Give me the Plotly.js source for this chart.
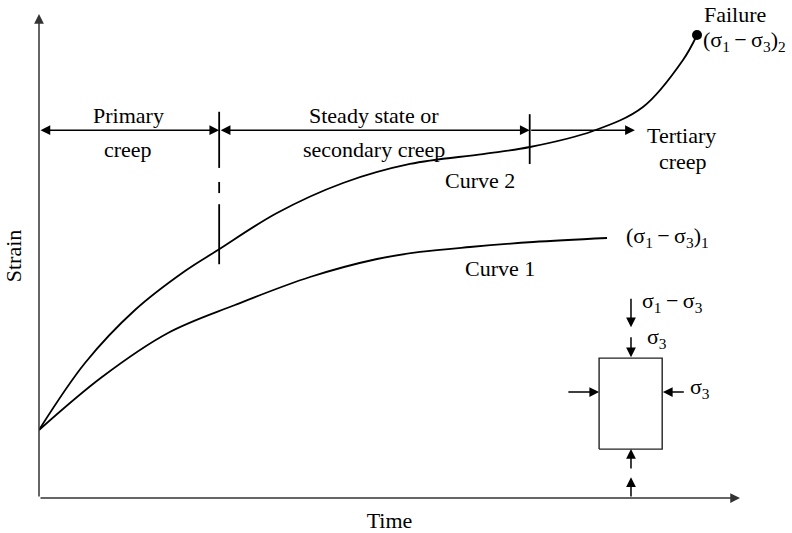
<!DOCTYPE html>
<html>
<head>
<meta charset="utf-8">
<script src="https://cdn.plot.ly/plotly-3.0.1.min.js"></script>
<style>html,body{margin:0;padding:0;background:#fff;}#chart{width:792px;height:533px;}</style>
</head>
<body>
<div id="chart"></div>
<script>
// ---- Data (Time / Strain in arbitrary units, 0..100) ----
const curve2Time   = [0, 6.56, 13.69, 20.83, 25.53, 33.95, 43.37, 52.92, 63.34, 70.04, 79.03, 86.16, 91.87, 93.87];
const curve2Strain = [14.05, 27.89, 38.84, 46.90, 51.24, 58.88, 65.08, 69.01, 71.07, 72.52, 75.83, 80.79, 90.50, 95.66];
const curve1Time   = [0, 8.99, 18.40, 27.96, 38.66, 48.22, 54.35, 61.48, 70.47, 81.03];
const curve1Strain = [14.05, 25.00, 34.09, 39.88, 45.66, 49.38, 50.83, 51.86, 52.89, 53.72];
const failurePoint = {time: 93.87, strain: 95.66};
// stage boundaries (time) and the strain level of the stage arrows
const stageBounds = [0, 25.7, 70.0, 85.0];
const stageArrowStrain = 76.0;
const stageLabels = [["Primary", "creep"], ["Steady state or", "secondary creep"], ["Tertiary", "creep"]];
// boundary markers (time, strain segments)
const boundary1Time = 25.7;
const boundary1Segments = [[79.8, 68.2], [65.3, 63.0], [60.7, 48.3]];
const boundary2Time = 70.0;
const boundary2Segment = [79.3, 69.0];
// inset specimen box
const boxTime = [79.9, 88.9];
const boxStrain = [10.1, 28.9];

const FONT = "Liberation Serif, Times New Roman, serif";
const INK = "#000";
const FS = 22;
const TS = "\u2009\u2212\u2009";

const traces = [];
traces.push({x: curve2Time, y: curve2Strain, mode: "lines", line: {color: INK, width: 1.8, shape: "spline", smoothing: 1}, hoverinfo: "skip"});
traces.push({x: curve1Time, y: curve1Strain, mode: "lines", line: {color: INK, width: 1.8, shape: "spline", smoothing: 1}, hoverinfo: "skip"});
traces.push({x: [failurePoint.time], y: [failurePoint.strain], mode: "markers", marker: {color: INK, size: 10}, hoverinfo: "skip"});
// boundary lines
const bx = [], by = [];
boundary1Segments.forEach(s => { bx.push(boundary1Time, boundary1Time, null); by.push(s[0], s[1], null); });
bx.push(boundary2Time, boundary2Time); by.push(boundary2Segment[0], boundary2Segment[1]);
traces.push({x: bx, y: by, mode: "lines", line: {color: INK, width: 1.8}, hoverinfo: "skip", connectgaps: false});
// box
traces.push({x: [boxTime[0], boxTime[1], boxTime[1], boxTime[0], boxTime[0]], y: [boxStrain[0], boxStrain[0], boxStrain[1], boxStrain[1], boxStrain[0]], mode: "lines", line: {color: "#222", width: 1.4}, hoverinfo: "skip"});

const ann = [];
function arrow(x0, y0, x1, y1, both, col, w) {
  ann.push({x: x1, y: y1, ax: x0, ay: y0, xref: "x", yref: "y", axref: "x", ayref: "y", text: "", showarrow: true,
    arrowhead: 2, arrowsize: 1.3, arrowwidth: w || 1.5, arrowcolor: col || INK,
    arrowside: both ? "end+start" : "end", startarrowhead: 2, startarrowsize: 1.3});
}
function label(x, y, text, opts) {
  ann.push(Object.assign({x: x, y: y, xref: "x", yref: "y", text: text, showarrow: false, xanchor: "center", yanchor: "middle",
    font: {family: FONT, size: FS, color: INK}}, opts || {}));
}
// axes with arrowheads
arrow(0, 0, 0, 100, false, "#333", 1.5);
arrow(0, 0, 100, 0, false, "#333", 1.5);
// stage arrows
arrow(stageBounds[0], stageArrowStrain, stageBounds[1], stageArrowStrain, true);
arrow(stageBounds[1], stageArrowStrain, stageBounds[2], stageArrowStrain, true);
arrow(stageBounds[2], stageArrowStrain, stageBounds[3], stageArrowStrain, false);
// stage labels
label(12.7, 79.1, stageLabels[0][0]);
label(12.7, 72.1, stageLabels[0][1]);
label(47.8, 79.1, stageLabels[1][0]);
label(47.8, 72.1, stageLabels[1][1]);
label(91.7, 75.0, stageLabels[2][0]);
label(91.8, 69.6, stageLabels[2][1]);
label(62.9, 65.5, "Curve 2");
label(65.8, 47.5, "Curve 1");
label(83.4, 53.9, "(σ<sub>1</sub>" + TS + "σ<sub>3</sub>)<sub>1</sub>", {xanchor: "left"});
label(99.3, 99.8, "Failure");
label(94.5, 94.4, "(σ<sub>1</sub>" + TS + "σ<sub>3</sub>)<sub>2</sub>", {xanchor: "left"});
// inset arrows
arrow(84.45, 41.5, 84.45, 35.3, false);
arrow(84.45, 33.5, 84.45, 29.1, false);
arrow(75.3, 21.9, 79.9, 21.9, false);
arrow(92.2, 21.9, 89.0, 21.9, false);
arrow(84.45, 5.8, 84.45, 10.1, false);
arrow(84.45, 0, 84.45, 4.3, false);
label(85.8, 40.5, "σ<sub>1</sub>" + TS + "σ<sub>3</sub>", {xanchor: "left"});
label(86.4, 33.1, "σ<sub>3</sub>", {xanchor: "left"});
label(92.6, 22.7, "σ<sub>3</sub>", {xanchor: "left"});

const layout = {
  width: 792, height: 533,
  margin: {l: 39, r: 52, t: 14, b: 35},
  paper_bgcolor: "#fff", plot_bgcolor: "#fff",
  showlegend: false,
  xaxis: {range: [0, 100], showgrid: false, zeroline: false, showline: false, showticklabels: false, ticks: "",
    title: {text: "Time", font: {family: FONT, size: FS, color: INK}, standoff: 14}, automargin: false},
  yaxis: {range: [0, 100], showgrid: false, zeroline: false, showline: false, showticklabels: false, ticks: "",
    title: {text: "Strain", font: {family: FONT, size: FS, color: INK}, standoff: 10}, automargin: false},
  annotations: ann
};
Plotly.newPlot("chart", traces, layout, {displayModeBar: false, staticPlot: true});
</script>
</body>
</html>
